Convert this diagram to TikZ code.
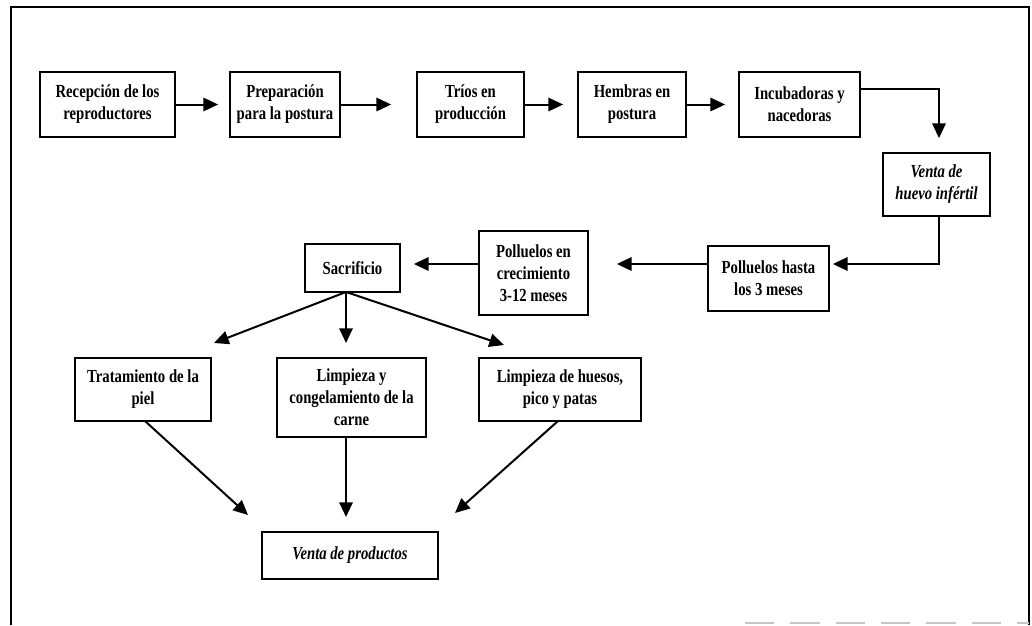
\documentclass[tikz,border=0pt]{standalone}
\usepackage{fontspec}
\newfontfamily\lsf{Liberation Serif}[FakeStretch=0.8]
\usetikzlibrary{arrows.meta,calc}
\tikzset{
  box/.style={draw, line width=1.3pt, align=center, inner sep=2pt,
    font=\lsf\bfseries\fontsize{13.8}{16.5}\selectfont},
  ibox/.style={box, font=\lsf\bfseries\itshape\fontsize{13.8}{16.5}\selectfont},
  arr/.style={line width=1.5pt, -{Triangle[length=11pt,width=10pt]}},
  frame/.style={line width=1.5pt}
}
\begin{document}
\begin{tikzpicture}[x=0.75pt,y=-0.75pt]
\useasboundingbox (0,0) rectangle (1032,625);
% frame
\draw[frame] (11,625) -- (11,7) -- (1029,7) -- (1029,625);
\draw[gray!45, line width=1pt, dash pattern=on 22pt off 12pt] (745,623) -- (1029,623);
% top row
\node[box, minimum width=101.25pt, minimum height=48.75pt] (rec) at (107.5,104.5) {Recepción de los\\reproductores};
\node[box, minimum width=82.5pt, minimum height=48.75pt] (prep) at (285,104.5) {Preparación\\para la postura};
\node[box, minimum width=80.25pt, minimum height=48.75pt] (trios) at (470.5,104.5) {Tríos en\\producción};
\node[box, minimum width=81pt, minimum height=48.75pt] (hemb) at (632,104.5) {Hembras en\\postura};
\node[box, minimum width=90.75pt, minimum height=48.75pt] (incu) at (799.5,104.5) {Incubadoras y\\nacedoras};
\node[ibox, minimum width=80.25pt, minimum height=47.25pt] (vhue) at (936.5,184.5) {Venta de\\huevo infértil};
% second row
\node[box, minimum width=90.75pt, minimum height=48.75pt] (poll3) at (768.5,278.5) {Polluelos hasta\\los 3 meses};
\node[box, minimum width=81.75pt, minimum height=63pt] (pollc) at (533.5,273) {Polluelos en\\crecimiento\\3-12 meses};
\node[box, minimum width=71.25pt, minimum height=36pt] (sac) at (352.5,268) {Sacrificio};
% third row
\node[box, minimum width=102pt, minimum height=47.25pt] (trat) at (143,389.5) {Tratamiento de la\\piel};
\node[box, minimum width=111.75pt, minimum height=59.25pt] (limp) at (351.5,397.5) {Limpieza y\\congelamiento de la\\carne};
\node[box, minimum width=121.5pt, minimum height=47.25pt] (hues) at (560,389.5) {Limpieza de huesos,\\pico y patas};
\node[ibox, minimum width=132pt, minimum height=35.25pt] (vprod) at (350,555.5) {Venta de productos};
% coordinates
\coordinate (c5) at (939,89);
\coordinate (c6) at (939,264);
\coordinate (fan) at (346,292);
\coordinate (tipL) at (214,343);
\coordinate (tipM) at (346,343);
\coordinate (tipR) at (504,345);
\coordinate (b1) at (145,421);
\coordinate (b3) at (558,421);
\coordinate (tipB1) at (248,515);
\coordinate (tipB2) at (346,517);
\coordinate (tipB3) at (455,513);
% arrows top row
\draw[arr, shorten >=8.25pt] (rec) -- (prep);
\draw[arr, shorten >=18.75pt] (prep) -- (trios);
\draw[arr, shorten >=10.5pt] (trios) -- (hemb);
\draw[arr, shorten >=9.75pt] (hemb) -- (incu);
\draw[arr, shorten >=10.5pt] (incu.east |- c5) -| (vhue.north -| c5);
\draw[arr, shorten >=2.25pt] (vhue.south -| c6) |- (poll3.east |- c6);
\draw[arr, shorten >=21pt] (poll3.west |- c6) -- (pollc.east |- c6);
\draw[arr, shorten >=9.75pt] (pollc.west |- c6) -- (sac.east |- c6);
% fan
\draw[arr] (fan) -- (tipL);
\draw[arr] (fan) -- (tipM);
\draw[arr] (fan) -- (tipR);
% to products
\draw[arr] (b1) -- (tipB1);
\draw[arr] (limp.south -| tipB2) -- (tipB2);
\draw[arr] (b3) -- (tipB3);
\end{tikzpicture}
\end{document}
